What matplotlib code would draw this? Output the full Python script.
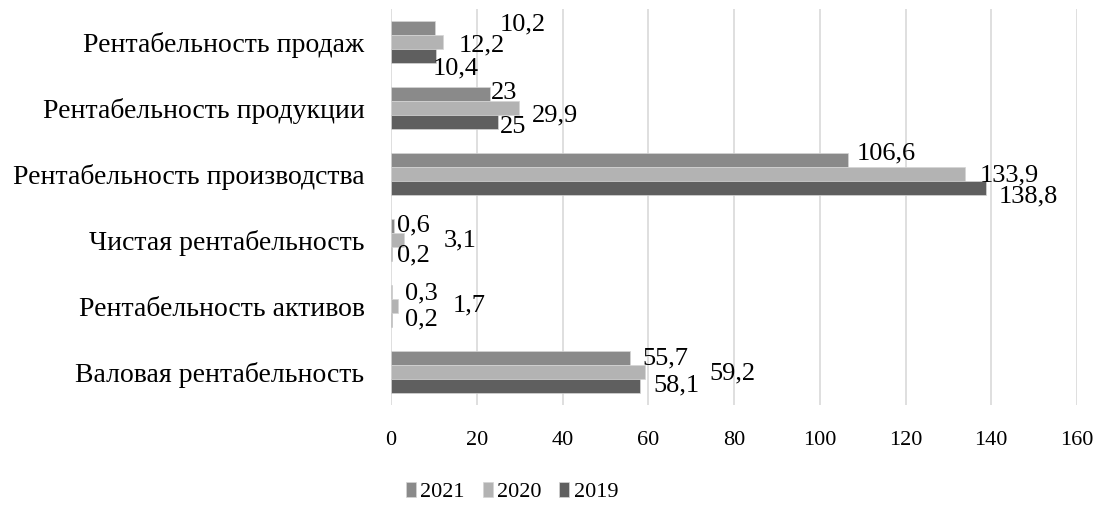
import numpy as np
from matplotlib import pyplot as plt

# categories from top to bottom
categories = ['Рентабельность продаж', 'Рентабельность продукции',
              'Рентабельность производства', 'Чистая рентабельность',
              'Рентабельность активов', 'Валовая рентабельность']
years = ['2021', '2020', '2019']
v2021 = [10.2, 23, 106.6, 0.6, 0.3, 55.7]
v2020 = [12.2, 29.9, 133.9, 3.1, 1.7, 59.2]
v2019 = [10.4, 25, 138.8, 0.2, 0.2, 58.1]
labels2021 = ['10,2', '23', '106,6', '0,6', '0,3', '55,7']
labels2020 = ['12,2', '29,9', '133,9', '3,1', '1,7', '59,2']
labels2019 = ['10,4', '25', '138,8', '0,2', '0,2', '58,1']

colors = ['#8a8a8a', '#b3b3b3', '#5f5f5f']
# label offsets in pixels (dx right, dy down), as placed by hand in the original
offs = [
    [(65, -4), (15, 3), (-3, 12)],
    [(1, -1), (13, 7), (2, 5)],
    [(9, -7), (15, 1), (13, 8)],
    [(3, -1), (39, 0), (5, 1)],
    [(13, 1), (54, -1), (13, -1)],
    [(13, 0), (65, 1), (13, -1)],
]

plt.rcParams['font.family'] = ['Liberation Serif', 'DejaVu Serif']

fig = plt.figure(figsize=(10.99, 5.05), dpi=100)
ax = fig.add_axes([391/1099, 1-405/505, (1077-391)/1099, 396/505])

n = len(categories)
y = np.arange(n)
h = 0.212
series = [v2021, v2020, v2019]
texts = [labels2021, labels2020, labels2019]
for k, (vals, lab, col) in enumerate(zip(series, texts, colors)):
    pos = y + (k - 1) * h
    ax.barh(pos, vals, height=h, color=col, edgecolor='#d5d5d5',
            linewidth=0.5, label=years[k], zorder=3)
    for i in range(n):
        dx, dy = offs[i][k]
        ax.annotate(lab[i], (vals[i], pos[i]), xytext=(dx, -dy),
                    textcoords='offset pixels', ha='left', va='center',
                    fontsize=19, color='black', zorder=4)

ax.set_ylim(n - 0.5, -0.5)
ax.set_xlim(0, 160)
ax.set_xticks(np.arange(0, 161, 20))
ax.set_yticks(y)
ax.set_yticklabels(categories, fontsize=20)
ax.tick_params(axis='y', length=0, pad=19)
ax.tick_params(axis='x', length=0, pad=18.5, labelsize=16)
ax.grid(axis='x', color='#d9d9d9', linewidth=1.2, zorder=0)
for s in ax.spines.values():
    s.set_visible(False)

handles, lbls = ax.get_legend_handles_labels()
fig.legend(handles, lbls, loc='center', bbox_to_anchor=(512/1099, 1-492/505),
           ncol=3, frameon=False, fontsize=16, handlelength=0.45,
           handleheight=0.65, handletextpad=0.2, columnspacing=0.8)

fig.savefig('out.png', dpi=100)
